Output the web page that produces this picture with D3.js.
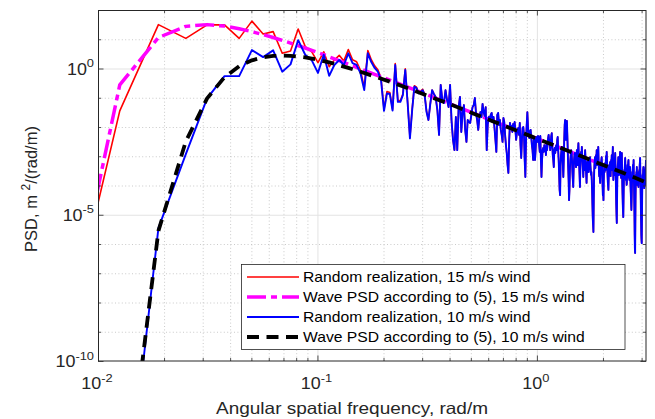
<!DOCTYPE html>
<html><head><meta charset="utf-8">
<script src="https://cdn.jsdelivr.net/npm/d3@7"></script>
<style>
body{margin:0;background:#fff;}
svg{display:block;}
text{font-family:"Liberation Sans",Arial,Helvetica,sans-serif;}
</style></head>
<body><svg id="chart" width="655" height="419"></svg>
<script>
// ---------------- DATA ----------------
// frequency bins of the simulation: k_n = n * 2*pi/1000 rad/m, n = 1..500
const binWidth = 2 * Math.PI / 1000;
const binCount = 500;

// bins at which the smooth model spectra are listed
const theoryBins = [1,2,3,4,5,6,7,8,9,10,11,12,13,14,15,16,17,18,19,20,22,25,30,35,40,50,60,80,100,150,200,300,400,500];
// log10 of wave PSD according to (5), 15 m/s wind (magenta)
const wavePSD15log10 = [-11.26,-0.56,1.06,1.44,1.50,1.45,1.36,1.26,1.16,1.06,0.96,0.87,0.78,0.70,0.62,0.54,0.47,0.40,0.33,0.27,0.15,-0.01,-0.24,-0.43,-0.60,-0.89,-1.13,-1.50,-1.79,-2.32,-2.69,-3.22,-3.59,-3.88];
// log10 of wave PSD according to (5), 10 m/s wind (black dashed)
const wavePSD10log10 = [-74.1,-16.3,-5.55,-2.49,-1.02,-0.30,0.08,0.28,0.38,0.43,0.44,0.43,0.41,0.38,0.34,0.30,0.25,0.21,0.16,0.11,0.02,-0.11,-0.31,-0.48,-0.64,-0.92,-1.14,-1.51,-1.80,-2.32,-2.69,-3.22,-3.59,-3.89];

// log10 of random realization, 15 m/s wind (red), bins 1..50 (above bin 50 it coincides with the 10 m/s one)
const random15log10Low = [
-11.0,-1.45,1.50,1.03,1.49,1.49,1.03,1.62,1.18,1.26,
0.52,0.60,1.35,0.75,0.57,0.20,0.57,0.06,0.29,0.45,
0.26,0.65,0.30,0.23,-0.06,-0.65,0.61,0.30,0.09,-0.04,
-0.32,-1.39,-0.79,-0.82,-1.39,0.17,-1.09,-1.10,-0.87,-0.01,
-1.15,-2.35,-1.39,-0.59,-0.64,-0.82,-0.77,-0.71,-0.88,-1.46];

// log10 of random realization, 10 m/s wind (blue), bins 1..500
const random10log10 = [
-73.8,-17.1,-5.46,-2.93,-1.02,-0.26,-0.26,0.63,0.39,0.62,
-0.11,0.14,0.97,0.47,0.28,-0.15,0.47,-0.25,0.12,0.29,
0.12,0.52,0.18,0.12,-0.16,-0.74,0.52,0.22,0.02,-0.11,
-0.39,-1.45,-0.85,-0.87,-1.44,0.12,-1.14,-1.14,-0.91,-0.05,
-1.19,-2.39,-1.42,-0.62,-0.67,-0.85,-0.80,-0.74,-0.91,-1.49,
-1.76,-1.21,-0.74,-0.87,-0.97,-1.42,-2.27,-0.56,-1.08,-1.18,
-0.74,-1.08,-1.32,-0.56,-1.79,-2.44,-2.79,-1.66,-2.79,-1.32,
-0.97,-2.17,-1.49,-1.25,-2.10,-2.51,-1.76,-1.83,-1.86,-1.59,
-1.32,-1.25,-1.01,-1.52,-1.76,-2.10,-1.69,-1.49,-1.66,-1.21,
-1.49,-1.62,-1.32,-2.79,-1.93,-1.66,-1.76,-1.59,-1.52,-1.83,
-1.66,-2.03,-2.44,-2.85,-1.59,-1.52,-1.93,-1.76,-2.10,-2.27,
-2.51,-1.69,-1.83,-2.27,-2.62,-2.89,-3.30,-3.57,-2.44,-1.86,
-2.03,-1.97,-2.17,-1.90,-2.03,-1.83,-2.10,-2.44,-2.21,-2.10,
-2.03,-2.27,-1.86,-2.62,-3.06,-2.44,-2.03,-2.00,-2.27,-3.13,
-3.71,-2.44,-1.93,-1.49,-2.03,-2.27,-2.38,-2.14,-2.10,-2.34,
-2.62,-2.79,-3.13,-2.44,-2.38,-3.13,-2.79,-2.38,-2.34,-2.51,
-2.31,-2.34,-2.62,-2.85,-2.31,-3.13,-3.71,-3.13,-2.79,-2.72,
-2.85,-2.62,-2.79,-2.68,-2.96,-2.55,-2.79,-2.62,-2.38,-2.27,
-2.51,-2.44,-2.79,-2.62,-2.31,-2.21,-2.62,-2.96,-3.13,-3.37,
-2.79,-2.72,-2.89,-2.68,-2.62,-2.79,-2.44,-2.34,-2.79,-3.13,
-3.64,-4.15,-4.33,-3.30,-2.96,-2.79,-2.68,-2.96,-3.30,-3.71,
-3.13,-2.44,-1.93,-1.76,-2.10,-2.44,-2.03,-1.79,-2.27,-2.79,
-3.37,-3.81,-4.50,-4.15,-3.47,-3.13,-2.96,-2.79,-2.85,-3.13,
-3.54,-3.81,-4.05,-3.47,-3.13,-2.96,-2.89,-3.06,-3.20,-3.37,
-3.13,-2.79,-2.96,-3.30,-2.79,-2.55,-2.96,-3.30,-3.64,-4.05,
-3.47,-3.06,-2.85,-3.13,-2.68,-2.96,-3.20,-3.47,-3.71,-3.30,
-3.06,-3.47,-3.13,-2.79,-3.06,-3.33,-3.64,-3.91,-3.47,-3.20,
-3.40,-3.13,-3.23,-3.54,-3.30,-3.06,-3.20,-3.03,-3.30,-3.47,
-3.64,-3.54,-3.81,-4.15,-4.67,-5.11,-5.35,-5.59,-4.50,-3.64,
-3.30,-3.13,-3.03,-3.40,-3.20,-2.96,-3.13,-2.79,-3.30,-3.06,
-2.85,-3.13,-2.68,-3.13,-3.47,-3.68,-3.30,-3.74,-3.91,-3.47,
-3.20,-3.40,-3.13,-3.03,-3.30,-3.64,-3.98,-4.33,-4.15,-4.50,
-3.81,-3.47,-3.27,-3.54,-3.40,-3.23,-3.47,-3.13,-2.99,-3.30,
-2.85,-3.13,-3.40,-3.64,-3.88,-4.02,-4.15,-3.74,-3.47,-3.30,
-3.54,-3.40,-3.20,-3.47,-3.68,-3.30,-3.13,-3.23,-2.96,-3.20,
-3.47,-3.06,-2.68,-3.30,-3.81,-3.54,-3.40,-3.64,-3.30,-3.13,
-3.06,-2.89,-3.30,-3.64,-4.15,-4.67,-5.01,-5.28,-4.50,-3.81,
-3.47,-3.30,-3.20,-3.03,-3.40,-3.64,-3.47,-3.30,-3.54,-3.06,
-2.85,-3.23,-3.64,-3.47,-3.74,-3.40,-3.13,-2.89,-3.47,-3.98,
-4.33,-4.67,-4.91,-5.08,-4.50,-3.98,-3.64,-3.47,-3.74,-3.40,
-3.23,-3.06,-3.40,-3.64,-3.81,-3.54,-3.74,-3.98,-3.91,-3.64,
-3.47,-3.30,-3.54,-3.40,-3.20,-3.13,-3.47,-3.74,-3.57,-3.81,
-3.64,-3.40,-3.37,-3.64,-3.98,-4.22,-4.43,-4.67,-4.84,-4.50,
-4.15,-3.81,-3.54,-3.74,-3.47,-3.30,-3.54,-3.40,-3.13,-3.64,
-3.98,-4.50,-5.01,-5.69,-6.14,-6.31,-5.35,-4.50,-3.98,-3.64,
-3.81,-3.54,-3.74,-3.37,-3.64,-3.98,-3.81,-3.64,-3.88,-3.74,
-3.98,-4.05,-3.81,-3.54,-3.74,-3.47,-3.64,-3.30,-3.20,-3.06,
-3.47,-3.88,-4.33,-4.84,-5.25,-5.69,-5.86,-5.97,-5.35,-4.50,
-3.98,-3.64,-3.88,-3.74,-3.54,-3.40,-3.37,-3.64,-3.98,-3.81,
-4.09,-3.74,-3.47,-3.81,-3.98,-3.71,-3.54,-3.40,-3.30,-3.13];

// axis ticks (decade exponents)
const xTickExp = [-2, -1, 0];
const yTickExp = [-10, -5, 0];
const xLabelText = "Angular spatial frequency, rad/m";
const legendLabels = [
  "Random realization, 15 m/s wind",
  "Wave PSD according to (5), 15 m/s wind",
  "Random realization, 10 m/s wind",
  "Wave PSD according to (5), 10 m/s wind"
];

// ---------------- CHART ----------------
const svg = d3.select("#chart");
const M = {left: 98, top: 10, right: 646, bottom: 361};
const plotW = M.right - M.left, plotH = M.bottom - M.top;
const axisColor = "#262626";
const SX = 1.12; // horizontal stretch of the original glyphs

const x = d3.scaleLog().domain([0.01, Math.PI]).range([M.left, M.right]);
const y = d3.scaleLog().domain([1e-10, 1e2]).range([M.bottom, M.top]);

const k = d3.range(1, binCount + 1).map(n => n * binWidth);

// tick value sets
const xMajor = xTickExp.map(e => Math.pow(10, e));
const xMinor = [];
xTickExp.forEach(e => { for (let m = 2; m <= 9; m++) { const v = m * Math.pow(10, e); if (v < Math.PI) xMinor.push(v); } });
const yMajor = yTickExp.map(e => Math.pow(10, e));
const yAllDec = d3.range(-10, 3).map(e => Math.pow(10, e));
const yMinor = yAllDec.filter(v => !yMajor.some(m => Math.abs(Math.log10(m) - Math.log10(v)) < 1e-9));

// ---- grid ----
const gridG = svg.append("g");
function gridX(vals, cls) {
  return gridG.append("g").attr("class", cls).attr("transform", `translate(0,${M.bottom})`)
    .call(d3.axisBottom(x).tickValues(vals).tickSize(-plotH).tickFormat(""))
    .call(g => g.select(".domain").remove());
}
function gridY(vals, cls) {
  return gridG.append("g").attr("class", cls).attr("transform", `translate(${M.left},0)`)
    .call(d3.axisLeft(y).tickValues(vals).tickSize(-plotW).tickFormat(""))
    .call(g => g.select(".domain").remove());
}
gridX(xMinor.filter(v => v > 0.01), "minor").selectAll("line").attr("stroke", "#bdbdbd").attr("stroke-width", 0.8).attr("stroke-dasharray", "1,2.4");
gridY(yMinor.filter(v => v < 99), "minor").selectAll("line").attr("stroke", "#bdbdbd").attr("stroke-width", 0.8).attr("stroke-dasharray", "1,2.4");
gridX(xMajor.filter(v => v > 0.011), "major").selectAll("line").attr("stroke", "#e3e3e3").attr("stroke-width", 1);
gridY(yMajor.filter(v => v > 1.1e-10), "major").selectAll("line").attr("stroke", "#e3e3e3").attr("stroke-width", 1);

// ---- data lines ----
svg.append("defs").append("clipPath").attr("id", "plotClip")
  .append("rect").attr("x", M.left).attr("y", M.top).attr("width", plotW).attr("height", plotH);
const lineGen = d3.line().x(d => x(d[0])).y(d => y(d[1]));
const linesG = svg.append("g").attr("clip-path", "url(#plotClip)");

const red = random15log10Low.concat(random10log10.slice(random15log10Low.length)).map((v, i) => [k[i], Math.pow(10, v)]);
const blue = random10log10.map((v, i) => [k[i], Math.pow(10, v)]);
const mag = theoryBins.map((b, i) => [k[b - 1], Math.pow(10, wavePSD15log10[i])]);
const blk = theoryBins.map((b, i) => [k[b - 1], Math.pow(10, wavePSD10log10[i])]);

const styles = [
  {data: red, color: "#ff0000", width: 1.6, dash: null},
  {data: mag, color: "#ff00ff", width: 3.5, dash: "19,5,6,5"},
  {data: blue, color: "#0000ff", width: 1.9, dash: null},
  {data: blk, color: "#000000", width: 3.8, dash: "12,7.5"}
];
styles.forEach(s => {
  linesG.append("path").datum(s.data).attr("d", lineGen)
    .attr("fill", "none").attr("stroke", s.color).attr("stroke-width", s.width)
    .attr("stroke-linejoin", "round")
    .attr("stroke-dasharray", s.dash);
});

// ---- axes box and ticks ----
const axG = svg.append("g").attr("color", axisColor);
function tickAxis(axisFn, scale, vals, size, tr) {
  axG.append("g").attr("transform", tr)
    .call(axisFn(scale).tickValues(vals).tickSizeInner(size).tickSizeOuter(0).tickFormat(""))
    .call(g => g.select(".domain").remove())
    .selectAll("line").attr("stroke", axisColor).attr("stroke-width", 0.8);
}
tickAxis(d3.axisBottom, x, xMajor, -5.5, `translate(0,${M.bottom})`);
tickAxis(d3.axisBottom, x, xMinor, -3, `translate(0,${M.bottom})`);
tickAxis(d3.axisTop, x, xMajor, -5.5, `translate(0,${M.top})`);
tickAxis(d3.axisTop, x, xMinor, -3, `translate(0,${M.top})`);
tickAxis(d3.axisLeft, y, yMajor, -5.5, `translate(${M.left},0)`);
tickAxis(d3.axisLeft, y, yMinor, -3, `translate(${M.left},0)`);
tickAxis(d3.axisRight, y, yMajor, -5.5, `translate(${M.right},0)`);
tickAxis(d3.axisRight, y, yMinor, -3, `translate(${M.right},0)`);
axG.append("rect").attr("x", M.left + 0.5).attr("y", M.top + 0.5)
  .attr("width", plotW - 0.5).attr("height", plotH - 0.5)
  .attr("fill", "none").attr("stroke", axisColor).attr("stroke-width", 1);

// ---- tick labels ----
function powerLabel(g, exp, anchor) {
  const t = g.append("text").attr("fill", axisColor).attr("text-anchor", anchor)
    .attr("font-size", 16);
  t.append("tspan").text("10");
  t.append("tspan").attr("font-size", 11.5).attr("dy", -7.5).text(String(exp));
  return t;
}
xTickExp.forEach(e => {
  const g = svg.append("g").attr("transform", `translate(${x(Math.pow(10, e)) - 1},389) scale(${SX},1)`);
  powerLabel(g, e, "middle");
});
yTickExp.forEach(e => {
  const g = svg.append("g").attr("transform", `translate(${M.left - 4},${y(Math.pow(10, e)) + 6}) scale(${SX},1)`);
  powerLabel(g, e, "end");
});

// ---- axis titles ----
svg.append("text").attr("x", 352).attr("y", 413.5).attr("text-anchor", "middle")
  .attr("font-size", 16.5).attr("fill", axisColor)
  .attr("textLength", 272).attr("lengthAdjust", "spacingAndGlyphs")
  .text(xLabelText);

const yl = svg.append("text").attr("transform", "translate(37,189) rotate(-90)")
  .attr("text-anchor", "middle").attr("font-size", 16.5).attr("fill", axisColor);
yl.append("tspan").text("PSD, m ");
yl.append("tspan").attr("font-size", 12).attr("dy", -7).text("2");
yl.append("tspan").attr("dy", 7).text("/(rad/m)");

// ---- legend ----
const lg = svg.append("g");
lg.append("rect").attr("x", 241.5).attr("y", 264.5).attr("width", 383.5).attr("height", 85)
  .attr("fill", "#ffffff").attr("stroke", axisColor).attr("stroke-width", 0.8);
const rowY = [277, 297, 317, 337];
styles.forEach((s, i) => {
  lg.append("line").attr("x1", 247).attr("x2", 299).attr("y1", rowY[i]).attr("y2", rowY[i])
    .attr("stroke", s.color).attr("stroke-width", s.width).attr("stroke-dasharray", s.dash);
  const g = lg.append("g").attr("transform", `translate(303,${rowY[i] + 5}) scale(${SX},1)`);
  g.append("text").attr("font-size", 14).attr("fill", "#000").text(legendLabels[i]);
});
</script>
</body></html>
